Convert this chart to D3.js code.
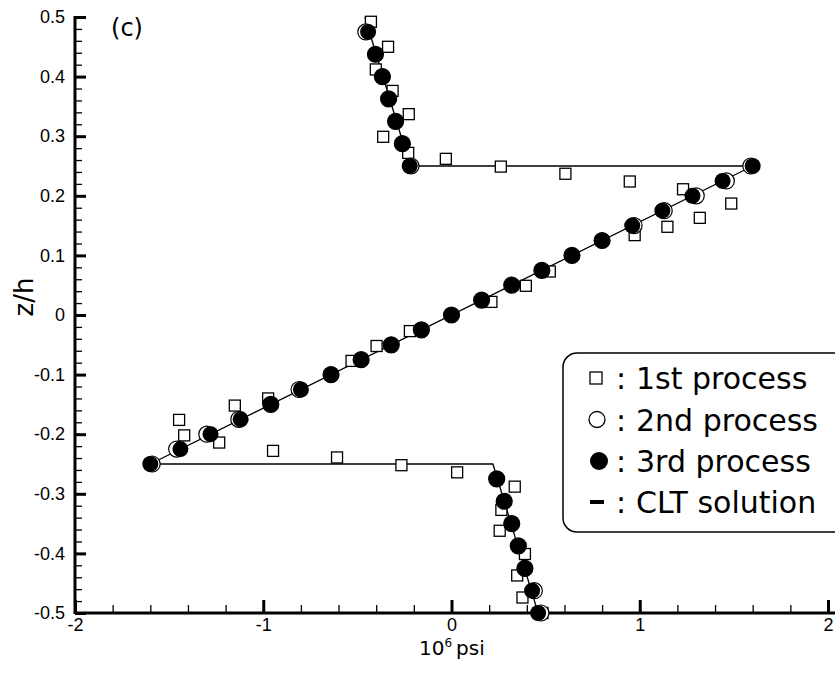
<!DOCTYPE html>
<html>
<head>
<meta charset="utf-8">
<script src="https://cdn.jsdelivr.net/npm/d3@7"></script>
<style>
  body { margin: 0; background: #fff; }
  svg { display: block; }
  text { font-family: "DejaVu Sans", sans-serif; fill: #000; }
  .tick text { font-family: "Liberation Sans", Arial, sans-serif; }
</style>
</head>
<body>
<svg id="chart" width="835" height="675"></svg>
<script>
// CLT solution (stress in 10^6 psi, z/h)
const cltLine = [[-0.46, 0.5], [-0.22, 0.25], [1.6, 0.25], [-1.6, -0.25], [0.22, -0.25], [0.46, -0.5]];

// 3rd process (filled circles)
const thirdZ = [0.475, 0.4375, 0.4, 0.3625, 0.325, 0.2875, 0.25,
  0.25, 0.225, 0.2, 0.175, 0.15, 0.125, 0.1, 0.075, 0.05, 0.025, 0,
  -0.025, -0.05, -0.075, -0.1, -0.125, -0.15, -0.175, -0.2, -0.225, -0.25,
  -0.275, -0.3125, -0.35, -0.3875, -0.425, -0.4625, -0.5];
const thirdX = [-0.443, -0.404, -0.367, -0.334, -0.297, -0.261, -0.222,
  1.6, 1.44, 1.28, 1.12, 0.96, 0.8, 0.64, 0.48, 0.32, 0.16, 0,
  -0.16, -0.32, -0.48, -0.64, -0.8, -0.96, -1.12, -1.28, -1.44, -1.6,
  0.24, 0.28, 0.32, 0.355, 0.39, 0.428, 0.46];

// 2nd process (open circles)
const secondZ = thirdZ;
const secondX = [-0.455, -0.404, -0.367, -0.334, -0.297, -0.261, -0.215,
  1.59, 1.46, 1.3, 1.13, 0.97, 0.8, 0.64, 0.48, 0.32, 0.16, 0,
  -0.16, -0.32, -0.48, -0.64, -0.81, -0.96, -1.13, -1.3, -1.46, -1.59,
  0.24, 0.28, 0.32, 0.355, 0.39, 0.44, 0.475];

// 1st process (open squares)
const firstZ = [0.492, 0.45, 0.412, 0.376, 0.337, 0.299, 0.272, 0.262,
  0.249, 0.237, 0.224, 0.211, 0.187, 0.163, 0.148, 0.134,
  0.073, 0.049, 0.022, -0.027, -0.052, -0.077,
  -0.14, -0.152, -0.176, -0.202, -0.214, -0.228, -0.239, -0.252, -0.264,
  -0.288, -0.327, -0.362, -0.401, -0.437, -0.474, -0.5];
const firstX = [-0.428, -0.337, -0.402, -0.313, -0.227, -0.363, -0.23, -0.03,
  0.262, 0.605, 0.947, 1.23, 1.486, 1.319, 1.147, 0.973,
  0.522, 0.395, 0.212, -0.221, -0.398, -0.531,
  -0.974, -1.151, -1.447, -1.42, -1.234, -0.948, -0.608, -0.266, 0.03,
  0.336, 0.265, 0.256, 0.39, 0.349, 0.377, 0.483];

const xTicks = [-2, -1, 0, 1, 2];
const xTickLabels = ['-2', '-1', '0', '1', '2'];
const yTicks = [-0.5, -0.4, -0.3, -0.2, -0.1, 0, 0.1, 0.2, 0.3, 0.4, 0.5];
const yTickLabels = ['-0.5', '-0.4', '-0.3', '-0.2', '-0.1', '0', '0.1', '0.2', '0.3', '0.4', '0.5'];

const legendItems = ['1st process', '2nd process', '3rd process', 'CLT solution'];

const svg = d3.select('#chart');

const x = d3.scaleLinear().domain([-2, 2]).range([75, 828]);
const y = d3.scaleLinear().domain([-0.5, 0.5]).range([613, 17]);

// minor ticks
const xMinor = d3.range(-2, 2.001, 0.2).filter(v => Math.abs(v - Math.round(v)) > 1e-6);
const yMinor = d3.range(-0.5, 0.5001, 0.02).filter(v => Math.abs(v * 10 - Math.round(v * 10)) > 1e-6);

svg.append('g')
    .attr('transform', 'translate(0,613)')
    .call(d3.axisBottom(x).tickValues(xMinor).tickSize(-8).tickFormat(''))
    .call(g => g.select('.domain').remove())
    .call(g => g.selectAll('line').attr('stroke-width', 1.3));

svg.append('g')
    .attr('transform', 'translate(75,0)')
    .call(d3.axisLeft(y).tickValues(yMinor).tickSize(-7).tickFormat(''))
    .call(g => g.select('.domain').remove())
    .call(g => g.selectAll('line').attr('stroke-width', 1.3));

const xAxis = svg.append('g')
    .attr('transform', 'translate(0,613)')
    .call(d3.axisBottom(x).tickValues(xTicks).tickSize(-13).tickPadding(18)
        .tickFormat((d, i) => xTickLabels[i]));
xAxis.select('.domain').remove();
xAxis.selectAll('line').attr('stroke-width', 3);
xAxis.selectAll('text').style('font-size', '18px').attr('dy', '0');

const yAxis = svg.append('g')
    .attr('transform', 'translate(75,0)')
    .call(d3.axisLeft(y).tickValues(yTicks).tickSize(-11).tickPadding(10)
        .tickFormat((d, i) => yTickLabels[i]));
yAxis.select('.domain').remove();
yAxis.selectAll('line').attr('stroke-width', 3);
yAxis.selectAll('text').style('font-size', '18px');

// axis lines
svg.append('line').attr('x1', 75).attr('x2', 835).attr('y1', 613).attr('y2', 613)
    .attr('stroke', '#000').attr('stroke-width', 3);
svg.append('line').attr('x1', 75).attr('x2', 75).attr('y1', 16).attr('y2', 614)
    .attr('stroke', '#000').attr('stroke-width', 3);

// CLT line
svg.append('path')
    .datum(cltLine)
    .attr('fill', 'none')
    .attr('stroke', '#000')
    .attr('stroke-width', 1.3)
    .attr('d', d3.line().x(d => x(d[0])).y(d => y(d[1])));

// 1st process squares
svg.append('g').selectAll('rect')
    .data(firstZ.map((z, i) => [firstX[i], z]))
    .enter().append('rect')
    .attr('x', d => x(d[0]) - 5.5)
    .attr('y', d => y(d[1]) - 5.5)
    .attr('width', 11).attr('height', 11)
    .attr('fill', '#fff').attr('stroke', '#000').attr('stroke-width', 1.3);

// 2nd process open circles
svg.append('g').selectAll('circle')
    .data(secondZ.map((z, i) => [secondX[i], z]))
    .enter().append('circle')
    .attr('cx', d => x(d[0])).attr('cy', d => y(d[1])).attr('r', 8)
    .attr('fill', '#fff').attr('stroke', '#000').attr('stroke-width', 1.2);

// 3rd process filled circles
svg.append('g').selectAll('circle')
    .data(thirdZ.map((z, i) => [thirdX[i], z]))
    .enter().append('circle')
    .attr('cx', d => x(d[0])).attr('cy', d => y(d[1])).attr('r', 8)
    .attr('fill', '#000');

// labels
svg.append('text').attr('x', 127).attr('y', 36).attr('text-anchor', 'middle')
    .style('font-size', '24px').text('(c)');

svg.append('text')
    .attr('transform', 'translate(33,297) rotate(-90)')
    .attr('text-anchor', 'middle')
    .style('font-size', '26px').text('z/h');

const xl = svg.append('text').attr('x', 419).attr('y', 655).style('font-size', '20px');
xl.append('tspan').text('10');
xl.append('tspan').attr('dy', -8).style('font-size', '12px').text('6');
xl.append('tspan').attr('dy', 8).attr('dx', 4).text('psi');

// legend
const lg = svg.append('g');
lg.append('rect').attr('x', 563).attr('y', 353).attr('width', 300).attr('height', 179)
    .attr('rx', 14).attr('fill', '#fff').attr('stroke', '#000').attr('stroke-width', 1.5);

const rowY = [378, 419.5, 461, 502];
lg.append('rect').attr('x', 590).attr('y', rowY[0] - 6).attr('width', 12).attr('height', 12)
    .attr('fill', '#fff').attr('stroke', '#000').attr('stroke-width', 1.3);
lg.append('circle').attr('cx', 597).attr('cy', rowY[1]).attr('r', 8)
    .attr('fill', '#fff').attr('stroke', '#000').attr('stroke-width', 1.3);
lg.append('circle').attr('cx', 599).attr('cy', rowY[2]).attr('r', 9).attr('fill', '#000');
lg.append('line').attr('x1', 590).attr('x2', 604).attr('y1', rowY[3]).attr('y2', rowY[3])
    .attr('stroke', '#000').attr('stroke-width', 4);

lg.selectAll('text.colon')
    .data(legendItems)
    .enter().append('text')
    .attr('class', 'colon')
    .attr('x', 616)
    .attr('y', (d, i) => rowY[i] + 11)
    .style('font-size', '30px')
    .text(':');

lg.selectAll('text.item')
    .data(legendItems)
    .enter().append('text')
    .attr('class', 'item')
    .attr('x', 636)
    .attr('y', (d, i) => rowY[i] + 11)
    .style('font-size', '30px')
    .text(d => d);
</script>
</body>
</html>
